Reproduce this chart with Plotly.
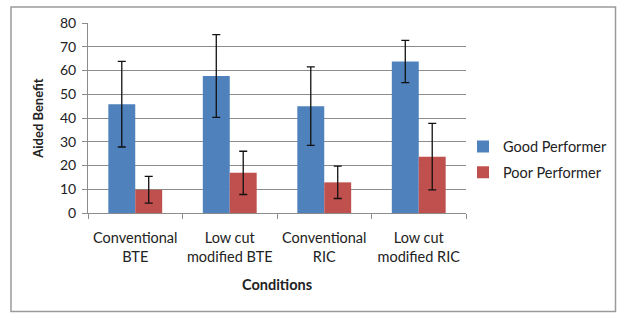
import plotly.graph_objects as go

categories = ["Conventional<br>BTE", "Low cut<br>modified BTE", "Conventional<br>RIC", "Low cut<br>modified RIC"]
good_values = [45.8, 57.7, 45.0, 63.8]
good_err = [18.0, 17.4, 16.5, 8.9]
poor_values = [9.8, 16.9, 12.9, 23.7]
poor_err = [5.6, 9.1, 6.8, 14.0]
y_ticks = [0, 10, 20, 30, 40, 50, 60, 70, 80]

W, H = 617, 313
L, R, T, B = 88, 151, 23, 100

fig = go.Figure()
fig.add_trace(go.Bar(
    name="Good Performer", x=categories, y=good_values, legendgroup="good",
    marker=dict(color="#4F81BD", line=dict(width=0)),
    error_y=dict(type="data", array=good_err, visible=True, color="#111111", thickness=1.3, width=4),
))
fig.add_trace(go.Bar(
    name="Poor Performer", x=categories, y=poor_values, legendgroup="poor",
    marker=dict(color="#C0504D", line=dict(width=0)),
    error_y=dict(type="data", array=poor_err, visible=True, color="#111111", thickness=1.3, width=4),
))

pw = W - L - R
ph = H - T - B
fig.add_shape(type="rect", xref="paper", yref="paper",
              x0=(11 - L) / pw, x1=(615.5 - L) / pw,
              y0=(H - B - 311.5) / ph, y1=(H - B - 7) / ph,
              line=dict(color="#9a9a9a", width=1.5), fillcolor="rgba(0,0,0,0)", layer="below")

font_family = "Lato, 'Open Sans', sans-serif"
fig.update_layout(
    width=W, height=H,
    margin=dict(l=L, r=R, t=T, b=B, pad=0, autoexpand=False),
    paper_bgcolor="white", plot_bgcolor="white",
    barmode="group", bargap=0.43, bargroupgap=0,
    font=dict(family=font_family, size=14, color="#222222"),
    showlegend=True,
    legend=dict(x=(463 - L) / pw, y=(H - B - 159.5) / ph, xanchor="left", yanchor="middle",
                font=dict(size=14.5, color="#222222"), itemwidth=30, tracegroupgap=4,
                bgcolor="rgba(0,0,0,0)"),
    xaxis=dict(
        automargin=False,
        showline=True, linecolor="#8c8c8c", linewidth=1,
        ticks="outside", ticklen=5, tickcolor="#8c8c8c", tickson="boundaries",
        tickangle=0, ticklabelstandoff=12,
        tickfont=dict(size=14.5, color="#222222"),
        title=dict(text="<b>Conditions</b>", font=dict(size=14.5, color="#222222"), standoff=15),
        showgrid=False,
    ),
    yaxis=dict(
        automargin=False,
        range=[0, 80], tickvals=y_ticks, ticktext=[str(v) for v in y_ticks],
        showline=True, linecolor="#8c8c8c", linewidth=1,
        ticks="outside", ticklen=5, tickcolor="#8c8c8c", ticklabelstandoff=3,
        showgrid=True, gridcolor="#8c8c8c", gridwidth=1,
        zeroline=False,
        tickfont=dict(size=14, color="#222222"),
        title=dict(text="<b>Aided Benefit</b>", font=dict(size=13, color="#222222"), standoff=13),
    ),
)

fig.write_html("out.html", config={"displayModeBar": False},
               post_script="document.body.style.margin='0';document.body.style.padding='0';")
